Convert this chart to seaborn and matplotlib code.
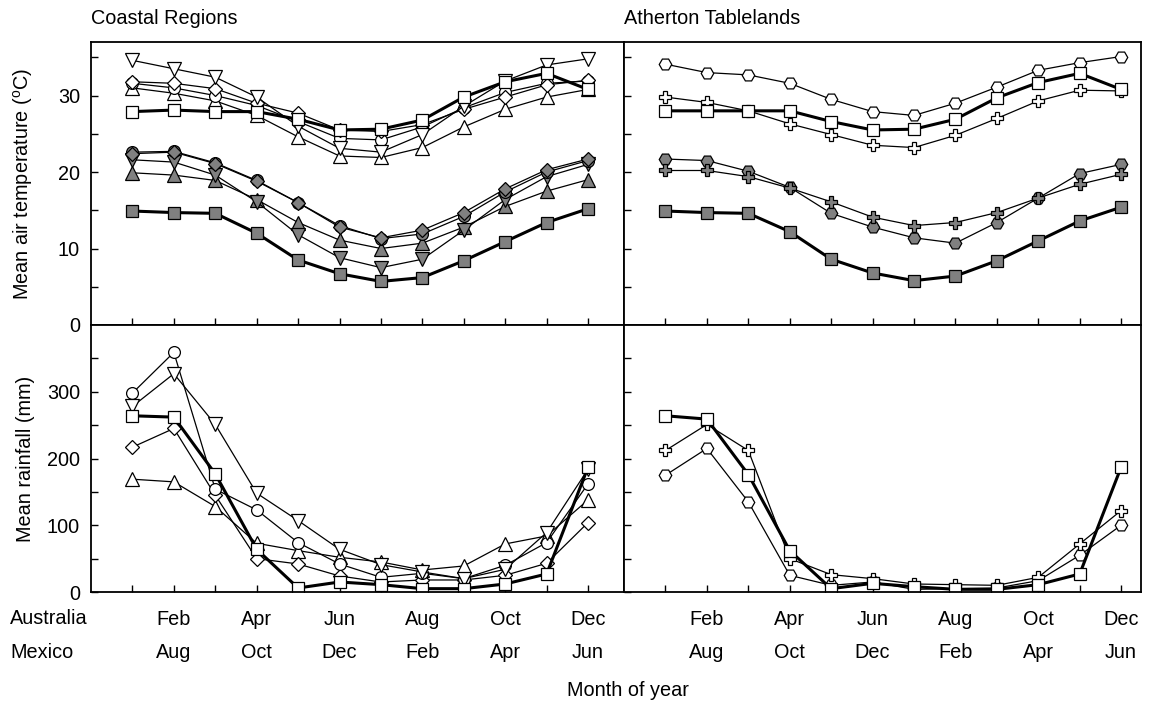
import numpy as np
import pandas as pd
import matplotlib
matplotlib.use("Agg")
import matplotlib.pyplot as plt
import seaborn as sns

# ---------------- data ----------------
months = list(range(1, 13))
aus_labels = ["Feb", "Apr", "Jun", "Aug", "Oct", "Dec"]
mex_labels = ["Aug", "Oct", "Dec", "Feb", "Apr", "Jun"]

# Coastal regions - maximum temperatures (open symbols)
c_tmax_tri_down = [34.6, 33.5, 32.4, 29.8, 26.0, 23.1, 22.6, 24.9, 28.6, 31.9, 34.0, 34.8]
c_tmax_circle = [31.6, 31.0, 30.0, 28.7, 26.6, 24.4, 24.2, 25.9, 28.4, 30.4, 31.6, 31.9]
c_tmax_diamond = [31.8, 31.6, 30.9, 29.0, 27.7, 25.5, 25.3, 26.2, 28.2, 29.8, 31.4, 32.0]
c_tmax_tri_up = [31.0, 30.3, 29.3, 27.4, 24.6, 22.1, 21.9, 23.2, 25.9, 28.2, 29.8, 30.8]
c_tmax_square = [27.9, 28.1, 27.9, 27.9, 26.9, 25.5, 25.6, 26.8, 29.8, 31.8, 32.9, 30.8]
# Coastal regions - minimum temperatures (grey symbols)
c_tmin_circle = [22.6, 22.7, 21.2, 18.9, 16.0, 13.0, 11.3, 11.9, 14.2, 17.4, 20.0, 21.5]
c_tmin_diamond = [22.4, 22.6, 21.1, 18.8, 16.0, 12.8, 11.4, 12.4, 14.7, 17.8, 20.3, 21.7]
c_tmin_tri_down = [21.6, 21.3, 19.6, 16.1, 11.8, 8.8, 7.5, 8.6, 12.4, 16.4, 19.4, 21.0]
c_tmin_tri_up = [19.9, 19.6, 18.9, 16.4, 13.4, 11.1, 10.0, 10.7, 12.8, 15.5, 17.5, 19.0]
c_tmin_square = [14.9, 14.7, 14.6, 12.0, 8.5, 6.7, 5.7, 6.2, 8.4, 10.9, 13.4, 15.2]

# Atherton Tablelands - temperatures
a_tmax_hex = [34.1, 33.0, 32.7, 31.6, 29.5, 27.9, 27.4, 29.0, 31.1, 33.3, 34.3, 35.1]
a_tmax_square = [28.0, 28.0, 28.0, 28.0, 26.6, 25.5, 25.6, 26.9, 29.7, 31.7, 32.9, 30.8]
a_tmax_cross = [29.8, 29.1, 28.0, 26.3, 24.9, 23.5, 23.2, 24.8, 27.0, 29.3, 30.7, 30.6]
a_tmin_hex = [21.7, 21.5, 20.1, 18.0, 14.6, 12.8, 11.4, 10.7, 13.4, 16.6, 19.8, 21.0]
a_tmin_cross = [20.2, 20.2, 19.4, 17.9, 16.1, 14.1, 13.0, 13.4, 14.7, 16.6, 18.4, 19.7]
a_tmin_square = [14.9, 14.7, 14.6, 12.2, 8.6, 6.8, 5.8, 6.4, 8.4, 11.0, 13.6, 15.4]

# Coastal regions - rainfall
c_rain_circle = [298, 359, 154, 123, 74, 42, 22, 28, 20, 40, 74, 162]
c_rain_tri_down = [278, 327, 251, 148, 107, 64, 41, 30, 20, 34, 89, 184]
c_rain_square = [264, 262, 177, 64, 6, 15, 11, 5, 5, 12, 27, 187]
c_rain_diamond = [217, 245, 145, 50, 42, 24, 15, 18, 18, 25, 43, 104]
c_rain_tri_up = [169, 165, 128, 73, 62, 52, 45, 33, 39, 72, 84, 138]

# Atherton Tablelands - rainfall
a_rain_square = [264, 259, 176, 62, 5, 13, 8, 4, 4, 11, 27, 187]
a_rain_cross = [212, 251, 212, 50, 26, 20, 12, 11, 10, 22, 72, 122]
a_rain_hex = [175, 215, 135, 25, 10, 15, 4, 5, 6, 17, 55, 100]

# ---------------- style ----------------
sns.set_style("ticks")
plt.rcParams["font.family"] = ["Liberation Sans", "DejaVu Sans"]
plt.rcParams["mathtext.fontset"] = "custom"
plt.rcParams["mathtext.rm"] = "Liberation Sans"
plt.rcParams["mathtext.it"] = "Liberation Sans:italic"
plt.rcParams["text.color"] = "black"
plt.rcParams["axes.labelcolor"] = "black"
FS = 14.3
GREY = "#808080"

W, H = 1154, 704
fig = plt.figure(figsize=(W / 100, H / 100), dpi=100)
gs = fig.add_gridspec(
    2, 2,
    left=91 / W, right=1141 / W, top=1 - 42 / H, bottom=1 - 592 / H,
    hspace=0, wspace=0,
    width_ratios=[12.87, 12.48], height_ratios=[283, 267],
)
ax_ct = fig.add_subplot(gs[0, 0])
ax_at = fig.add_subplot(gs[0, 1])
ax_cr = fig.add_subplot(gs[1, 0])
ax_ar = fig.add_subplot(gs[1, 1])


def draw(ax, values, marker, face, thick=False, ms=8.5):
    df = pd.DataFrame({"month": months, "value": values})
    sns.lineplot(
        data=df, x="month", y="value", ax=ax, color="black",
        linewidth=2.2 if thick else 0.9, marker=marker, markersize=ms,
        markerfacecolor=face, markeredgecolor="black", markeredgewidth=0.9,
        legend=False, errorbar=None,
    )


W_ = "white"
# coastal temperatures
draw(ax_ct, c_tmax_tri_up, "^", W_, ms=9.5)
draw(ax_ct, c_tmax_circle, "o", W_, ms=8.5)
draw(ax_ct, c_tmax_diamond, "D", W_, ms=7)
draw(ax_ct, c_tmax_tri_down, "v", W_, ms=9.5)
draw(ax_ct, c_tmax_square, "s", W_, thick=True, ms=8)
draw(ax_ct, c_tmin_tri_up, "^", GREY, ms=9.5)
draw(ax_ct, c_tmin_tri_down, "v", GREY, ms=9.5)
draw(ax_ct, c_tmin_circle, "o", GREY, ms=8.5)
draw(ax_ct, c_tmin_diamond, "D", GREY, ms=7)
draw(ax_ct, c_tmin_square, "s", GREY, thick=True, ms=8)

# Atherton temperatures
draw(ax_at, a_tmax_hex, "H", W_, ms=9)
draw(ax_at, a_tmax_cross, "P", W_, ms=9)
draw(ax_at, a_tmax_square, "s", W_, thick=True, ms=8)
draw(ax_at, a_tmin_hex, "H", GREY, ms=9)
draw(ax_at, a_tmin_cross, "P", GREY, ms=9)
draw(ax_at, a_tmin_square, "s", GREY, thick=True, ms=8)

# coastal rainfall
draw(ax_cr, c_rain_tri_up, "^", W_, ms=9.5)
draw(ax_cr, c_rain_diamond, "D", W_, ms=7)
draw(ax_cr, c_rain_circle, "o", W_, ms=8.5)
draw(ax_cr, c_rain_tri_down, "v", W_, ms=9.5)
draw(ax_cr, c_rain_square, "s", W_, thick=True, ms=8)

# Atherton rainfall
draw(ax_ar, a_rain_hex, "H", W_, ms=9)
draw(ax_ar, a_rain_cross, "P", W_, ms=9)
draw(ax_ar, a_rain_square, "s", W_, thick=True, ms=8)

# ---------------- axes ----------------
xt_labels = []
k = 0
for m in months:
    if m % 2 == 0:
        xt_labels.append(aus_labels[k] + "\n" + mex_labels[k])
        k += 1
    else:
        xt_labels.append("")

for ax, xmax in [(ax_ct, 12.87), (ax_cr, 12.87), (ax_at, 12.48), (ax_ar, 12.48)]:
    ax.set_xlim(0, xmax)
    ax.set_xlabel("")
    ax.set_ylabel("")
    ax.set_xticks(months)
    for s in ax.spines.values():
        s.set_visible(True)
        s.set_linewidth(1.3)
        s.set_color("black")
    ax.tick_params(axis="both", which="both", direction="in", length=5, width=1,
                   labelsize=FS, colors="black", pad=8)
    ax.tick_params(axis="x", pad=13)

for ax in (ax_ct, ax_at):
    ax.set_ylim(0, 37)
    ax.set_yticks([0, 10, 20, 30])
    ax.set_yticks([5, 15, 25, 35], minor=True)
    ax.set_xticklabels([])
for ax in (ax_cr, ax_ar):
    ax.set_ylim(0, 400)
    ax.set_yticks([0, 100, 200, 300])
    ax.set_yticks([50, 150, 250, 350], minor=True)
    ax.set_xticklabels(xt_labels)
    for t in ax.get_xticklabels():
        t.set_linespacing(1.9)
for ax in (ax_at, ax_ar):
    ax.set_yticklabels([])

ax_ct.set_ylabel("Mean air temperature ($^{\\mathrm{o}}$C)", fontsize=FS, color="black")
ax_cr.set_ylabel("Mean rainfall (mm)", fontsize=FS, color="black")
ax_ct.yaxis.set_label_coords(-0.105, 0.5)
ax_cr.yaxis.set_label_coords(-0.105, 0.5)

fig.text(91 / W, 1 - 18 / H, "Coastal Regions", fontsize=FS, ha="left", va="center", color="black")
fig.text(624 / W, 1 - 18 / H, "Atherton Tablelands", fontsize=FS, ha="left", va="center", color="black")
fig.text(10 / W, 1 - 618 / H, "Australia", fontsize=FS, ha="left", va="center", color="black")
fig.text(10 / W, 1 - 652 / H, "Mexico", fontsize=FS, ha="left", va="center", color="black")
fig.text(628 / W, 1 - 690 / H, "Month of year", fontsize=FS, ha="center", va="center", color="black")

fig.savefig("out.png", dpi=100, facecolor="white")
